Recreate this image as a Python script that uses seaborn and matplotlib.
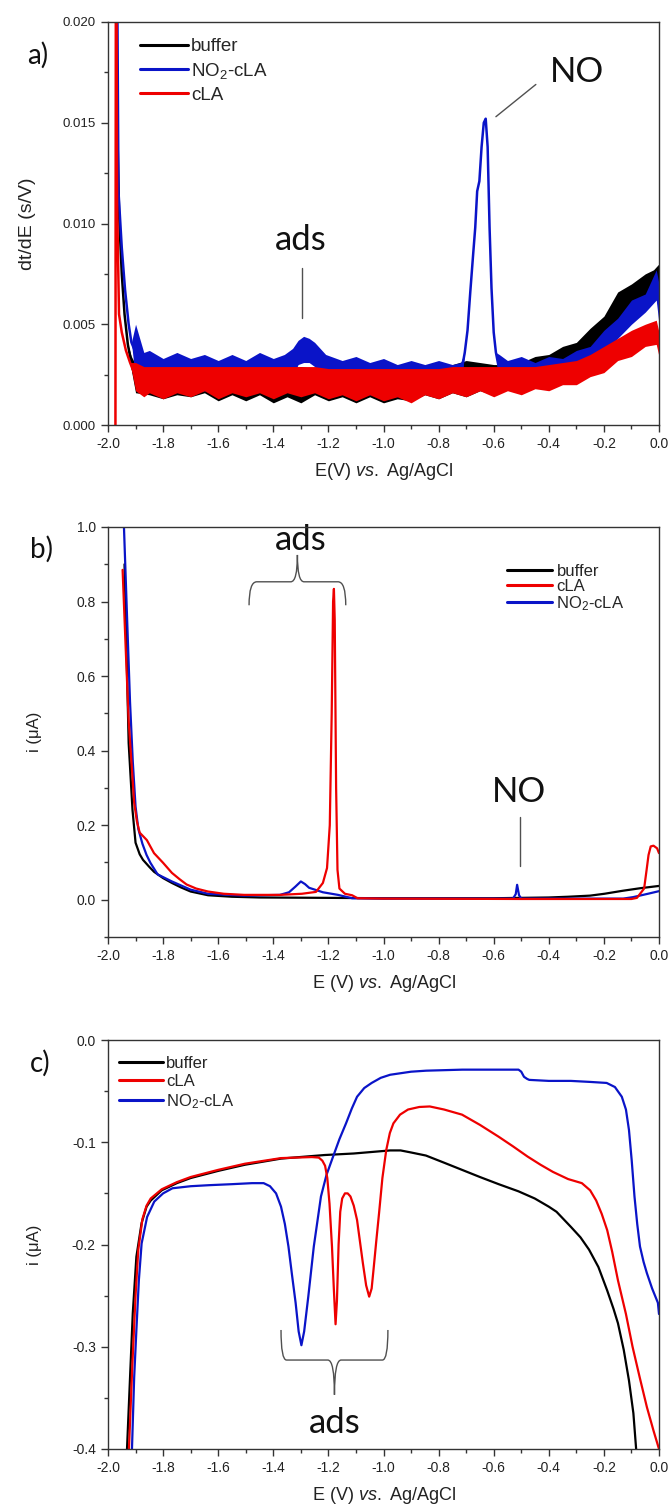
import numpy as np
import pandas as pd
import matplotlib
matplotlib.use("Agg")
import matplotlib.pyplot as plt
import seaborn as sns
from matplotlib.path import Path
from matplotlib.patches import PathPatch
from matplotlib.lines import Line2D
from matplotlib.ticker import FixedLocator, FixedFormatter, MultipleLocator

# ---------------------------------------------------------------- data
# colours / labels
C_BUF, C_CLA, C_NIT = "#000000", "#ee0000", "#0a14c8"
LBL_BUF, LBL_CLA, LBL_NIT = "buffer", "cLA", "NO$_2$-cLA"

# ---- panel a : dt/dE (s/V); noisy traces given as lower/upper envelope
bufA_line_E = [-1.975, -1.968, -1.960, -1.950, -1.940, -1.928]
bufA_line_v = [0.030, 0.0160, 0.0105, 0.0075, 0.0055, 0.0040]
bufA_band_E = [-1.915, -1.90, -1.85, -1.80, -1.75, -1.70, -1.65, -1.60, -1.55, -1.50,
               -1.45, -1.40, -1.35, -1.30, -1.25, -1.20, -1.15, -1.10, -1.05, -1.00,
               -0.95, -0.90, -0.85, -0.80, -0.75, -0.70, -0.65, -0.60, -0.55, -0.50,
               -0.45, -0.40, -0.35, -0.30, -0.25, -0.20, -0.15, -0.10, -0.05, -0.02, 0.00]
bufA_band_lo = [0.0027, 0.0016, 0.0015, 0.0013, 0.0015, 0.0014, 0.0016, 0.0012, 0.0015, 0.0012,
                0.0015, 0.0011, 0.0014, 0.0011, 0.0015, 0.0012, 0.0014, 0.0011, 0.0014, 0.0011,
                0.0013, 0.0012, 0.0015, 0.0013, 0.0016, 0.0014, 0.0017, 0.0015, 0.0018, 0.0018,
                0.0022, 0.0024, 0.0028, 0.0030, 0.0035, 0.0042, 0.0049, 0.0056, 0.0061, 0.0063, 0.0068]
bufA_band_hi = [0.0034, 0.0030, 0.0029, 0.0028, 0.0028, 0.0029, 0.0028, 0.0028, 0.0028, 0.0029,
                0.0028, 0.0028, 0.0028, 0.0029, 0.0028, 0.0028, 0.0028, 0.0028, 0.0028, 0.0028,
                0.0028, 0.0028, 0.0029, 0.0029, 0.0030, 0.0032, 0.0031, 0.0030, 0.0030, 0.0031,
                0.0034, 0.0035, 0.0039, 0.0041, 0.0048, 0.0054, 0.0066, 0.0070, 0.0075, 0.0077, 0.0080]

nitA_line_E = [-1.970, -1.962, -1.950, -1.938, -1.925, -1.915,
               -0.705, -0.695, -0.685, -0.675, -0.667, -0.660, -0.652, -0.644,
               -0.636, -0.629, -0.622, -0.615, -0.608, -0.600, -0.592]
nitA_line_v = [0.030, 0.0116, 0.0088, 0.0067, 0.0050, 0.0041,
               0.0036, 0.0047, 0.0066, 0.0084, 0.0098, 0.0116, 0.0121, 0.0138,
               0.0150, 0.0152, 0.0138, 0.0098, 0.0068, 0.0046, 0.0036]
nitA_band_E = [-1.90, -1.87, -1.85, -1.80, -1.75, -1.70, -1.65, -1.60, -1.55, -1.50,
               -1.45, -1.40, -1.36, -1.33, -1.31, -1.29, -1.27, -1.25, -1.23, -1.21,
               -1.15, -1.10, -1.05, -1.00, -0.95, -0.90, -0.85, -0.80, -0.75, -0.72,
               -0.58, -0.55, -0.50, -0.45, -0.40, -0.35, -0.30, -0.25, -0.20, -0.15,
               -0.10, -0.05, -0.01, 0.00]
nitA_band_lo = [0.0022, 0.0019, 0.0018, 0.0017, 0.0017, 0.0016, 0.0017, 0.0016, 0.0017, 0.0016,
                0.0017, 0.0016, 0.0018, 0.0024, 0.0030, 0.0031, 0.0031, 0.0029, 0.0022, 0.0017,
                0.0016, 0.0015, 0.0015, 0.0015, 0.0014, 0.0015, 0.0016, 0.0016, 0.0017, 0.0018,
                0.0020, 0.0019, 0.0019, 0.0020, 0.0022, 0.0024, 0.0027, 0.0031, 0.0036, 0.0043,
                0.0050, 0.0056, 0.0062, 0.0050]
nitA_band_hi = [0.0050, 0.0036, 0.0037, 0.0033, 0.0036, 0.0033, 0.0035, 0.0032, 0.0035, 0.0032,
                0.0036, 0.0033, 0.0035, 0.0038, 0.0042, 0.0044, 0.0043, 0.0041, 0.0038, 0.0035,
                0.0032, 0.0034, 0.0031, 0.0033, 0.0030, 0.0032, 0.0030, 0.0032, 0.0030, 0.0031,
                0.0035, 0.0032, 0.0034, 0.0031, 0.0034, 0.0033, 0.0037, 0.0039, 0.0047, 0.0053,
                0.0062, 0.0065, 0.0077, 0.0070]

claA_line_E = [-1.973, -1.971, -1.967, -1.960, -1.950, -1.935, -1.920]
claA_line_v = [0.0, 0.030, 0.0110, 0.0055, 0.0046, 0.0037, 0.0031]
claA_band_E = [-1.90, -1.87, -1.85, -1.80, -1.75, -1.70, -1.65, -1.60, -1.55, -1.50,
               -1.45, -1.40, -1.35, -1.30, -1.25, -1.20, -1.15, -1.10, -1.05, -1.00,
               -0.95, -0.90, -0.85, -0.80, -0.75, -0.70, -0.65, -0.60, -0.55, -0.50,
               -0.45, -0.40, -0.35, -0.30, -0.25, -0.20, -0.15, -0.10, -0.05, -0.01, 0.00]
claA_band_lo = [0.0017, 0.0014, 0.0016, 0.0013, 0.0016, 0.0014, 0.0017, 0.0013, 0.0016, 0.0014,
                0.0016, 0.0013, 0.0016, 0.0014, 0.0016, 0.0013, 0.0015, 0.0012, 0.0015, 0.0012,
                0.0014, 0.0011, 0.0015, 0.0013, 0.0016, 0.0014, 0.0017, 0.0014, 0.0017, 0.0015,
                0.0018, 0.0017, 0.0020, 0.0020, 0.0024, 0.0026, 0.0032, 0.0034, 0.0039, 0.0040, 0.0034]
claA_band_hi = [0.0031, 0.0029, 0.0029, 0.0029, 0.0029, 0.0029, 0.0029, 0.0029, 0.0029, 0.0029,
                0.0029, 0.0029, 0.0029, 0.0029, 0.0029, 0.0028, 0.0028, 0.0028, 0.0028, 0.0028,
                0.0028, 0.0028, 0.0028, 0.0028, 0.0029, 0.0029, 0.0029, 0.0029, 0.0029, 0.0029,
                0.0029, 0.0030, 0.0031, 0.0032, 0.0035, 0.0039, 0.0043, 0.0047, 0.0050, 0.0052, 0.0046]

# ---- panel b : i (uA)
bufB_E = [-1.940, -1.925, -1.911, -1.900, -1.885, -1.873, -1.850, -1.833, -1.800, -1.768,
          -1.735, -1.700, -1.637, -1.550, -1.450, -1.200, -1.000, -0.600, -0.400, -0.330,
          -0.250, -0.198, -0.132, -0.067, 0.000]
bufB_v = [0.900, 0.420, 0.240, 0.153, 0.122, 0.107, 0.088, 0.075, 0.058, 0.045,
          0.033, 0.022, 0.012, 0.008, 0.006, 0.005, 0.004, 0.004, 0.006, 0.008,
          0.011, 0.016, 0.024, 0.031, 0.037]
claB_E = [-1.947, -1.935, -1.925, -1.915, -1.905, -1.895, -1.885, -1.859, -1.833, -1.800,
          -1.768, -1.740, -1.715, -1.680, -1.637, -1.580, -1.506, -1.376, -1.296, -1.245,
          -1.220, -1.205, -1.195, -1.188, -1.183, -1.180, -1.177, -1.172, -1.167, -1.160,
          -1.140, -1.114, -1.094, -1.000, -0.500, -0.100, -0.080, -0.054, -0.045, -0.038,
          -0.030, -0.020, -0.007, 0.000]
claB_v = [0.885, 0.660, 0.480, 0.370, 0.260, 0.210, 0.180, 0.160, 0.125, 0.099,
          0.072, 0.055, 0.041, 0.030, 0.022, 0.016, 0.013, 0.013, 0.016, 0.021,
          0.045, 0.085, 0.200, 0.500, 0.800, 0.834, 0.750, 0.300, 0.080, 0.030,
          0.016, 0.012, 0.004, 0.003, 0.002, 0.002, 0.005, 0.030, 0.080, 0.120,
          0.143, 0.145, 0.138, 0.125]
nitB_E = [-1.943, -1.930, -1.920, -1.910, -1.900, -1.890, -1.875, -1.860, -1.846, -1.820,
          -1.768, -1.700, -1.637, -1.506, -1.376, -1.343, -1.320, -1.300, -1.285, -1.270,
          -1.220, -1.165, -1.114, -1.000, -0.530, -0.520, -0.515, -0.508, -0.500, -0.130,
          -0.094, -0.040, 0.000]
nitB_v = [1.020, 0.740, 0.530, 0.370, 0.250, 0.190, 0.150, 0.120, 0.099, 0.068,
          0.049, 0.027, 0.016, 0.011, 0.013, 0.020, 0.035, 0.049, 0.042, 0.032,
          0.020, 0.013, 0.004, 0.003, 0.003, 0.015, 0.040, 0.012, 0.003, 0.003,
          0.007, 0.016, 0.023]

# ---- panel c : i (uA)
bufC_E = [-1.935, -1.931, -1.920, -1.910, -1.897, -1.878, -1.860, -1.845, -1.805, -1.750,
          -1.700, -1.600, -1.503, -1.372, -1.214, -1.108, -0.976, -0.938, -0.900, -0.846,
          -0.780, -0.715, -0.650, -0.582, -0.510, -0.451, -0.400, -0.372, -0.319, -0.285,
          -0.254, -0.220, -0.188, -0.165, -0.149, -0.128, -0.109, -0.093, -0.083, -0.078]
bufC_v = [-0.420, -0.400, -0.330, -0.267, -0.212, -0.179, -0.163, -0.157, -0.147, -0.140,
          -0.135, -0.128, -0.122, -0.116, -0.1125, -0.111, -0.108, -0.108, -0.110, -0.113,
          -0.120, -0.127, -0.134, -0.141, -0.148, -0.155, -0.163, -0.168, -0.183, -0.193,
          -0.205, -0.222, -0.245, -0.263, -0.277, -0.303, -0.333, -0.365, -0.400, -0.420]
claC_E = [-1.927, -1.924, -1.912, -1.900, -1.890, -1.875, -1.860, -1.845, -1.805, -1.750,
          -1.700, -1.600, -1.503, -1.372, -1.260, -1.235, -1.222, -1.212, -1.204, -1.196,
          -1.187, -1.180, -1.174, -1.169, -1.163, -1.157, -1.150, -1.140, -1.130, -1.120,
          -1.108, -1.096, -1.085, -1.075, -1.063, -1.052, -1.043, -1.036, -1.026, -1.016,
          -1.004, -0.990, -0.977, -0.964, -0.940, -0.911, -0.870, -0.832, -0.780, -0.715,
          -0.650, -0.582, -0.530, -0.477, -0.430, -0.385, -0.330, -0.280, -0.250, -0.228,
          -0.208, -0.188, -0.170, -0.149, -0.120, -0.096, -0.070, -0.044, -0.020, 0.000]
claC_v = [-0.420, -0.400, -0.320, -0.250, -0.205, -0.175, -0.162, -0.155, -0.146, -0.139,
          -0.134, -0.127, -0.121, -0.1155, -0.1145, -0.115, -0.118, -0.123, -0.135, -0.160,
          -0.202, -0.245, -0.278, -0.255, -0.200, -0.168, -0.155, -0.150, -0.150, -0.153,
          -0.162, -0.176, -0.198, -0.218, -0.240, -0.251, -0.243, -0.224, -0.196, -0.169,
          -0.135, -0.1076, -0.091, -0.0815, -0.073, -0.068, -0.0655, -0.065, -0.068, -0.073,
          -0.083, -0.0946, -0.104, -0.114, -0.122, -0.129, -0.136, -0.140, -0.147, -0.157,
          -0.170, -0.186, -0.207, -0.235, -0.268, -0.300, -0.330, -0.359, -0.382, -0.400]
nitC_E = [-1.916, -1.913, -1.905, -1.897, -1.888, -1.878, -1.858, -1.832, -1.800, -1.766,
          -1.700, -1.634, -1.550, -1.477, -1.435, -1.412, -1.390, -1.372, -1.358, -1.345,
          -1.332, -1.319, -1.308, -1.298, -1.288, -1.273, -1.253, -1.227, -1.207, -1.187,
          -1.160, -1.136, -1.115, -1.096, -1.070, -1.043, -1.010, -0.976, -0.900, -0.845,
          -0.714, -0.582, -0.510, -0.500, -0.490, -0.479, -0.471, -0.400, -0.320, -0.250,
          -0.190, -0.160, -0.135, -0.120, -0.109, -0.099, -0.089, -0.079, -0.069, -0.056,
          -0.044, -0.025, -0.004, 0.000]
nitC_v = [-0.420, -0.400, -0.330, -0.284, -0.235, -0.199, -0.173, -0.158, -0.150, -0.145,
          -0.143, -0.142, -0.141, -0.140, -0.140, -0.143, -0.150, -0.163, -0.180, -0.202,
          -0.230, -0.257, -0.285, -0.2985, -0.285, -0.251, -0.202, -0.153, -0.132, -0.117,
          -0.097, -0.0815, -0.067, -0.0555, -0.047, -0.042, -0.037, -0.034, -0.031, -0.030,
          -0.029, -0.029, -0.029, -0.031, -0.036, -0.038, -0.039, -0.040, -0.040, -0.041,
          -0.042, -0.046, -0.0555, -0.068, -0.088, -0.118, -0.153, -0.180, -0.202, -0.217,
          -0.228, -0.243, -0.257, -0.268]

# ticks
X_TICKS = [-2.0, -1.8, -1.6, -1.4, -1.2, -1.0, -0.8, -0.6, -0.4, -0.2, 0.0]
X_TICKLABELS = ["-2.0", "-1.8", "-1.6", "-1.4", "-1.2", "-1.0", "-0.8", "-0.6", "-0.4", "-0.2", "0.0"]
A_YTICKS = [0.0, 0.005, 0.010, 0.015, 0.020]
A_YTICKLABELS = ["0.000", "0.005", "0.010", "0.015", "0.020"]
B_YTICKS = [0.0, 0.2, 0.4, 0.6, 0.8, 1.0]
B_YTICKLABELS = ["0.0", "0.2", "0.4", "0.6", "0.8", "1.0"]
C_YTICKS = [-0.4, -0.3, -0.2, -0.1, 0.0]
C_YTICKLABELS = ["-0.4", "-0.3", "-0.2", "-0.1", "0.0"]

# annotation anchors (data coordinates)
A_ADS_TEXT = (-1.30, 0.0087)
A_ADS_LINE = ([-1.297, -1.297], [0.0053, 0.0078])
A_NO_TEXT = (-0.296, 0.0170)
A_NO_LINE = ([-0.592, -0.447], [0.0153, 0.0169])
B_ADS_TEXT = (-1.30, 0.938)
B_BRACE = (-1.488, -1.137, 0.79, 0.853, 0.925, 0.028, 0.024)
B_NO_TEXT = (-0.508, 0.263)
B_NO_LINE = ([-0.505, -0.505], [0.091, 0.223])
C_ADS_TEXT = (-1.177, -0.3845)
C_BRACE = (-1.372, -0.984, -0.2836, -0.313, -0.347, 0.020, 0.024)

# ---------------------------------------------------------------- style
sns.set_theme(style="ticks")
plt.rcParams.update({
    "font.family": ["Liberation Sans", "DejaVu Sans"],
    "axes.unicode_minus": False,
    "mathtext.fontset": "custom",
    "mathtext.rm": "Liberation Sans",
    "mathtext.it": "Liberation Sans:italic",
    "mathtext.bf": "Liberation Sans:bold",
    "mathtext.sf": "Liberation Sans",
})
SPINE = "#333333"
ANN = "#505050"


def band_series(ax, line_E, line_v, band_E, band_lo, band_hi, color, z):
    E = np.concatenate([line_E, band_E])
    lo = np.concatenate([line_v, band_lo])
    hi = np.concatenate([line_v, band_hi])
    df = pd.DataFrame({"E": np.concatenate([E, E]), "v": np.concatenate([lo, hi])})
    sns.lineplot(data=df, x="E", y="v", estimator="mean",
                 errorbar=lambda s: (s.min(), s.max()),
                 color=color, linewidth=1.8, zorder=z + 0.5,
                 err_kws={"alpha": 1.0, "linewidth": 0, "zorder": z},
                 ax=ax, legend=False)


def line_series(ax, E, v, color, z):
    sns.lineplot(x=np.asarray(E), y=np.asarray(v), color=color, linewidth=1.6, zorder=z,
                 estimator=None, errorbar=None, sort=False, ax=ax, legend=False)


def style_axes(ax, yticks, yticklabels, yminor, ylim, xlabel, ylabel, ylab_x, ytick_size,
               ylab_size):
    ax.set_xlim(-2.0, 0.0)
    ax.set_ylim(*ylim)
    ax.xaxis.set_major_locator(FixedLocator(X_TICKS))
    ax.xaxis.set_major_formatter(FixedFormatter(X_TICKLABELS))
    ax.xaxis.set_minor_locator(MultipleLocator(0.1))
    ax.yaxis.set_major_locator(FixedLocator(yticks))
    ax.yaxis.set_major_formatter(FixedFormatter(yticklabels))
    ax.yaxis.set_minor_locator(MultipleLocator(yminor))
    ax.tick_params(which="both", direction="out", color=SPINE, width=1.0,
                   top=False, right=False, labelcolor="#222222")
    ax.tick_params(which="major", length=4.8, pad=4)
    ax.tick_params(which="minor", length=2.8)
    ax.tick_params(axis="x", labelsize=10)
    ax.tick_params(axis="y", labelsize=ytick_size)
    for sp in ax.spines.values():
        sp.set_visible(True)
        sp.set_color(SPINE)
        sp.set_linewidth(1.0)
        sp.set_zorder(20)
    ax.set_xlabel(xlabel, fontsize=13, color="#222222", labelpad=7)
    ax.set_ylabel(ylabel, fontsize=ylab_size, color="#222222")
    ax.yaxis.set_label_coords(ylab_x, 0.5)
    ax.grid(False)


def draw_brace(ax, x0, x1, y_end, y_mid, y_tip, r_end, r_mid):
    xc = 0.5 * (x0 + x1)
    verts = [(x0, y_end), (x0, y_mid), (x0 + r_end, y_mid),
             (xc - r_mid, y_mid), (xc, y_mid), (xc, y_tip),
             (xc, y_mid), (xc + r_mid, y_mid),
             (x1 - r_end, y_mid), (x1, y_mid), (x1, y_end)]
    codes = [Path.MOVETO, Path.CURVE3, Path.CURVE3,
             Path.LINETO, Path.CURVE3, Path.CURVE3,
             Path.CURVE3, Path.CURVE3,
             Path.LINETO, Path.CURVE3, Path.CURVE3]
    ax.add_patch(PathPatch(Path(verts, codes), fill=False, edgecolor=ANN, lw=1.0,
                           clip_on=False))


def add_legend(ax, labels, colors, anchor, fontsize, labelspacing, handlelength, handletextpad):
    handles = [Line2D([], [], color=c, lw=2.2) for c in colors]
    leg = ax.legend(handles, labels, loc="upper left", bbox_to_anchor=anchor, frameon=False,
                    fontsize=fontsize, borderpad=0, borderaxespad=0, labelspacing=labelspacing,
                    handlelength=handlelength, handletextpad=handletextpad)
    leg.set_zorder(30)


def big_text(ax, xy, s):
    ax.text(xy[0], xy[1], s, fontsize=25, family="Lato", ha="center", va="baseline",
            color="#111111")


# ---------------------------------------------------------------- figure
fig = plt.figure(figsize=(6.7, 15.08), dpi=100)
L, W = 108 / 670, 551 / 670
axA = fig.add_axes([L, 1 - 425 / 1508, W, 403 / 1508])
axB = fig.add_axes([L, 1 - 937 / 1508, W, 410 / 1508])
axC = fig.add_axes([L, 1 - 1449 / 1508, W, 409 / 1508])

XLAB_A = r"E(V) $\mathit{vs.}$ Ag/AgCl"
XLAB_BC = r"E (V) $\mathit{vs.}$ Ag/AgCl"

# panel a
band_series(axA, bufA_line_E, bufA_line_v, bufA_band_E, bufA_band_lo, bufA_band_hi, C_BUF, 2)
band_series(axA, nitA_line_E, nitA_line_v, nitA_band_E, nitA_band_lo, nitA_band_hi, C_NIT, 4)
band_series(axA, claA_line_E, claA_line_v, claA_band_E, claA_band_lo, claA_band_hi, C_CLA, 6)
style_axes(axA, A_YTICKS, A_YTICKLABELS, 0.0025, (0.0, 0.020), XLAB_A, "dt/dE (s/V)", -0.13,
           9.5, 14)
add_legend(axA, [LBL_BUF, LBL_NIT, LBL_CLA], [C_BUF, C_NIT, C_CLA], (0.058, 0.960),
           13.5, 0.31, 2.56, 0.15)
big_text(axA, A_ADS_TEXT, "ads")
axA.plot(*A_ADS_LINE, color=ANN, lw=1.0)
big_text(axA, A_NO_TEXT, "NO")
axA.plot(*A_NO_LINE, color=ANN, lw=1.0)

# panel b
line_series(axB, bufB_E, bufB_v, C_BUF, 2)
line_series(axB, nitB_E, nitB_v, C_NIT, 3)
line_series(axB, claB_E, claB_v, C_CLA, 4)
style_axes(axB, B_YTICKS, B_YTICKLABELS, 0.1, (-0.1, 1.0), XLAB_BC, "i (μA)", -0.12, 10, 12)
add_legend(axB, [LBL_BUF, LBL_CLA, LBL_NIT], [C_BUF, C_CLA, C_NIT], (0.724, 0.910),
           12, 0.0, 2.7, 0.27)
big_text(axB, B_ADS_TEXT, "ads")
draw_brace(axB, *B_BRACE)
big_text(axB, B_NO_TEXT, "NO")
axB.plot(*B_NO_LINE, color=ANN, lw=1.0)

# panel c
line_series(axC, bufC_E, bufC_v, C_BUF, 2)
line_series(axC, nitC_E, nitC_v, C_NIT, 3)
line_series(axC, claC_E, claC_v, C_CLA, 4)
style_axes(axC, C_YTICKS, C_YTICKLABELS, 0.05, (-0.4, 0.0), XLAB_BC, "i (μA)", -0.12, 10, 12)
add_legend(axC, [LBL_BUF, LBL_CLA, LBL_NIT], [C_BUF, C_CLA, C_NIT], (0.020, 0.962),
           12, 0.19, 2.64, 0.18)
big_text(axC, C_ADS_TEXT, "ads")
draw_brace(axC, *C_BRACE)

# panel letters
for s, x, y in [("a)", 27 / 670, 1 - 64 / 1508), ("b)", 30 / 670, 1 - 558 / 1508),
                ("c)", 30 / 670, 1 - 1072 / 1508)]:
    fig.text(x, y, s, fontsize=20, family="Lato", ha="left", va="baseline", color="#111111")

fig.savefig("out.png", dpi=100)
